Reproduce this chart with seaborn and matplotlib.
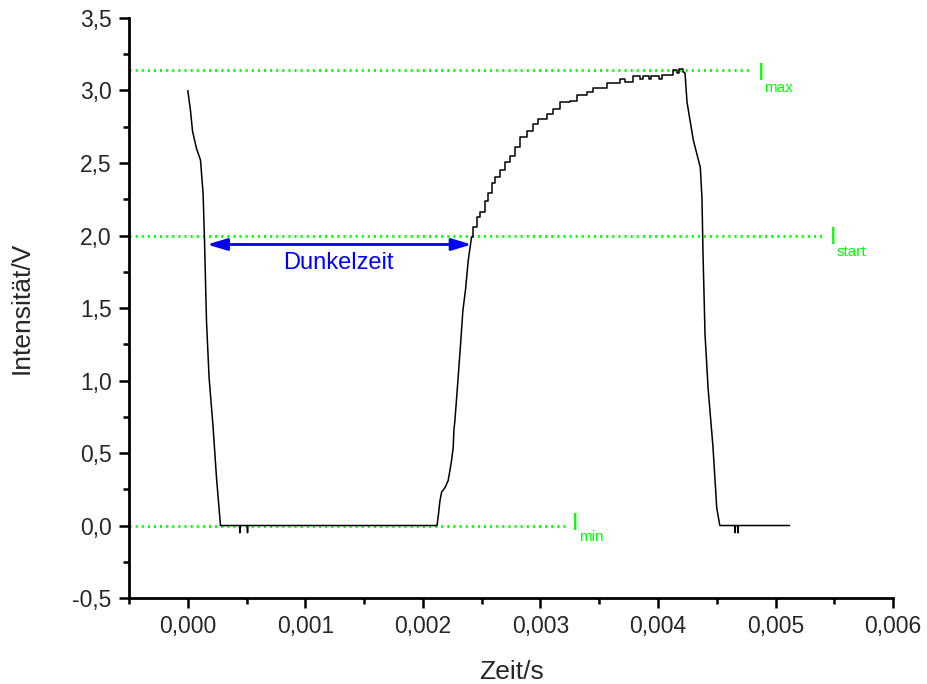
import matplotlib
matplotlib.use("Agg")
import matplotlib.pyplot as plt
from matplotlib.ticker import MultipleLocator, FuncFormatter
import numpy as np
import pandas as pd
import seaborn as sns

# --- measured trace (time in s, intensity in V) ---
fall1_t = [0.0, 0.000023, 0.000040, 0.000074, 0.000108, 0.000130, 0.000142,
           0.000159, 0.000181, 0.000215, 0.000244, 0.000278]
fall1_v = [3.00, 2.86, 2.72, 2.60, 2.52, 2.29, 1.97, 1.41, 1.02, 0.68, 0.33, 0.0]

dark_t = [0.000278, 0.000440, 0.000443, 0.000446, 0.000505, 0.000508, 0.000511, 0.00212]
dark_v = [0.0, 0.0, -0.05, 0.0, 0.0, -0.05, 0.0, 0.0]

# steep lower part of the recovery
onset_t = [0.00212, 0.00213, 0.002145, 0.002159, 0.002187, 0.002215, 0.00223, 0.002244,
           0.002258, 0.002264, 0.002272, 0.002298, 0.002323, 0.00234, 0.002363, 0.002386,
           0.002414]
onset_v = [0.0, 0.06, 0.17, 0.23, 0.26, 0.31, 0.38, 0.45,
           0.54, 0.66, 0.72, 1.00, 1.28, 1.48, 1.63, 1.83,
           1.99]

# quantised upper part of the recovery
rise_t = [0.002414, 0.002428, 0.002457, 0.002485, 0.002528, 0.002556, 0.002585, 0.002613,
          0.002655, 0.002698, 0.00274, 0.002783, 0.002826, 0.002883, 0.002939, 0.002981,
          0.003053, 0.003109, 0.003166, 0.003251, 0.003308, 0.003393, 0.003449, 0.003563,
          0.003677, 0.00372, 0.00379, 0.00385, 0.00387, 0.00392, 0.00394, 0.00396,
          0.00401, 0.00403, 0.004102, 0.00413, 0.00416, 0.00418, 0.004215]
rise_v = [1.99, 2.06, 2.13, 2.16, 2.24, 2.29, 2.36, 2.40,
          2.45, 2.51, 2.55, 2.61, 2.68, 2.72, 2.77, 2.80,
          2.84, 2.87, 2.92, 2.93, 2.97, 2.99, 3.02, 3.05,
          3.08, 3.06, 3.10, 3.08, 3.10, 3.08, 3.10, 3.10,
          3.08, 3.11, 3.11, 3.14, 3.12, 3.15, 3.13]

fall2_t = [0.004215, 0.00423, 0.004247, 0.0043, 0.00436, 0.004374, 0.004383, 0.0044,
           0.004426, 0.004468, 0.0045, 0.004526, 0.004652, 0.004655, 0.004658,
           0.004677, 0.00468, 0.004683, 0.00512]
fall2_v = [3.13, 3.12, 2.92, 2.66, 2.47, 2.26, 1.88, 1.32,
           0.95, 0.54, 0.12, 0.0, 0.0, -0.05, 0.0,
           0.0, -0.05, 0.0, 0.0]

# reference levels
level_names = ["max", "start", "min"]
level_values = [3.14, 2.0, 0.0]
level_ends = [0.004797, 0.005421, 0.003234]

# dark time span
dark_span = [0.000164, 0.002414]
dark_level = 1.938

x_ticks = [0.000, 0.001, 0.002, 0.003, 0.004, 0.005, 0.006]

sns.set_style("ticks")
plt.rcParams["font.family"] = ["Liberation Sans", "DejaVu Sans"]

fig = plt.figure(figsize=(9.27, 6.84), dpi=100)
ax = fig.add_axes([0.1392, 0.1257, 0.8242, 0.848])

green = "#00ff00"
blue = "#0000ff"

# dotted reference levels
for name, val, end in zip(level_names, level_values, level_ends):
    ax.plot([-0.0005, end], [val, val], color=green, lw=2.0,
            linestyle=(0, (0.75, 1.45)), zorder=1)

# trace
smooth = pd.DataFrame({"t": fall1_t + dark_t + onset_t + fall2_t,
                       "v": fall1_v + dark_v + onset_v + fall2_v,
                       "seg": (["a"] * len(fall1_t) + ["b"] * len(dark_t)
                               + ["c"] * len(onset_t) + ["d"] * len(fall2_t))})
for seg, grp in smooth.groupby("seg"):
    sns.lineplot(data=grp, x="t", y="v", sort=False, estimator=None,
                 color="black", lw=1.1, ax=ax, zorder=3)
rise = pd.DataFrame({"t": rise_t, "v": rise_v})
sns.lineplot(data=rise, x="t", y="v", sort=False, estimator=None,
             color="black", lw=1.1, ax=ax, drawstyle="steps-post", zorder=3)

# level labels: "I" with subscript
label_offsets = {"max": (-7.2, -15.6, 6.5, 9.0),
                 "start": (-5.8, -14.4, 5.5, 8.4),
                 "min": (-3.2, -10.8, 5.0, 8.0)}
for name, val, end in zip(level_names, level_values, level_ends):
    dy_i, dy_s, dx_i, dx_s = label_offsets[name]
    ax.annotate("I", xy=(end, val), xytext=(dx_i, dy_i), textcoords="offset points",
                ha="center", va="baseline", color=green, fontsize=17)
    ax.annotate(name, xy=(end, val), xytext=(dx_s, dy_s), textcoords="offset points",
                ha="left", va="baseline", color=green, fontsize=11)

# dark time arrow
ax.annotate("", xy=(dark_span[0], dark_level), xytext=(dark_span[1], dark_level),
            arrowprops=dict(arrowstyle="<|-|>,head_length=0.8,head_width=0.24",
                            color=blue, lw=2, mutation_scale=15,
                            shrinkA=0, shrinkB=0), zorder=4)
ax.text(sum(dark_span) / 2 - 0.00001, 1.77, "Dunkelzeit", color=blue, fontsize=17,
        ha="center", va="baseline")

ax.set_xlim(-0.0005, 0.006)
ax.set_ylim(-0.5, 3.5)
ax.set_xticks(x_ticks)
ax.xaxis.set_minor_locator(MultipleLocator(0.0005))
ax.yaxis.set_major_locator(MultipleLocator(0.5))
ax.yaxis.set_minor_locator(MultipleLocator(0.25))
ax.xaxis.set_major_formatter(FuncFormatter(lambda v, p: f"{v:.3f}".replace(".", ",")))
ax.yaxis.set_major_formatter(FuncFormatter(lambda v, p: f"{v:.1f}".replace(".", ",")))

for side in ["top", "right"]:
    ax.spines[side].set_visible(False)
for side in ["left", "bottom"]:
    ax.spines[side].set_linewidth(2)
    ax.spines[side].set_color("black")

ax.tick_params(which="major", direction="out", length=7.5, width=1.8,
               labelsize=16.5, color="black", pad=5)
ax.tick_params(which="minor", direction="out", length=4.3, width=1.8, color="black")

ax.set_xlabel("Zeit/s", fontsize=19)
ax.set_ylabel("Intensität/V", fontsize=19)
ax.xaxis.set_label_coords(0.5, -0.106)
ax.yaxis.set_label_coords(-0.125, 0.5)

fig.savefig("out.png", dpi=100, facecolor="white")
